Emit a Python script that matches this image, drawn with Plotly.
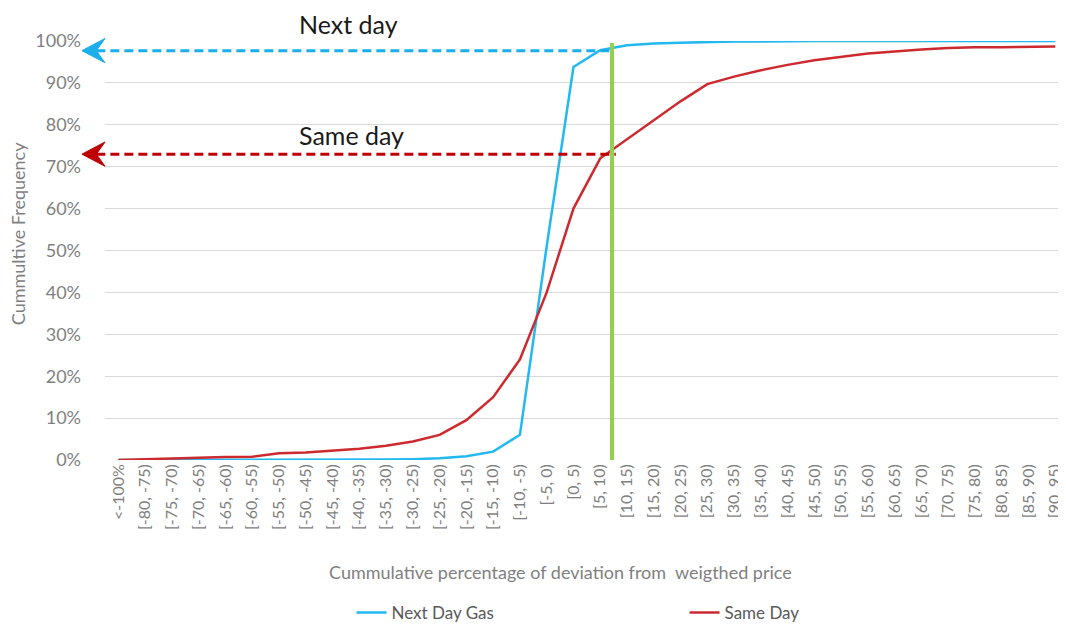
import plotly.graph_objects as go

categories = ["<-100%", "[-80, -75)", "[-75, -70)", "[-70, -65)", "[-65, -60)", "[-60, -55)",
              "[-55, -50)", "[-50, -45)", "[-45, -40)", "[-40, -35)", "[-35, -30)", "[-30, -25)",
              "[-25, -20)", "[-20, -15)", "[-15, -10)", "[-10, -5)", "[-5, 0)", "[0, 5)",
              "[5, 10)", "[10, 15)", "[15, 20)", "[20, 25)", "[25, 30)", "[30, 35)",
              "[35, 40)", "[40, 45)", "[45, 50)", "[50, 55)", "[55, 60)", "[60, 65)",
              "[65, 70)", "[70, 75)", "[75, 80)", "[80, 85)", "[85, 90)", "[90, 95)"]

next_day_gas = [0.000, 0.000, 0.000, 0.000, 0.000, 0.000, 0.000, 0.000, 0.000, 0.000,
                0.001, 0.002, 0.004, 0.009, 0.020, 0.060, 0.510, 0.938, 0.978, 0.990,
                0.994, 0.996, 0.998, 0.999, 0.999, 1.000, 1.000, 1.000, 1.000, 1.000,
                1.000, 1.000, 1.000, 1.000, 1.000, 1.000]

same_day = [0.000, 0.002, 0.003, 0.005, 0.007, 0.008, 0.016, 0.018, 0.022, 0.027,
            0.034, 0.044, 0.060, 0.095, 0.150, 0.240, 0.400, 0.600, 0.720, 0.766,
            0.811, 0.856, 0.897, 0.915, 0.930, 0.943, 0.954, 0.962, 0.970, 0.975,
            0.980, 0.983, 0.985, 0.985, 0.986, 0.987]

y_ticks = [0, 0.1, 0.2, 0.3, 0.4, 0.5, 0.6, 0.7, 0.8, 0.9, 1.0]
y_tick_labels = ["0%", "10%", "20%", "30%", "40%", "50%", "60%", "70%", "80%", "90%", "100%"]

next_day_level = 0.977
same_day_level = 0.73
threshold_x = 18.44   # position of the vertical marker (category index)
marker_top = 0.995

BLUE = "#22b8f0"
RED = "#cc2a2f"
GRAY = "#7f7f7f"
FONT = "Lato"

x_range = [-0.5, 35.4]


def xp(xi):
    return (xi - x_range[0]) / (x_range[1] - x_range[0])


fig = go.Figure()
fig.add_trace(go.Scatter(x=categories, y=next_day_gas, mode="lines", name="Next Day Gas",
                         line=dict(color=BLUE, width=2.5)))
fig.add_trace(go.Scatter(x=categories, y=same_day, mode="lines", name="Same Day",
                         line=dict(color=RED, width=2.5)))

# vertical green marker
fig.add_shape(type="line", xref="x", yref="y", x0=threshold_x, x1=threshold_x, y0=0, y1=marker_top,
              line=dict(color="#92d050", width=4), layer="above")

# dashed arrows (paper coords; y range equals paper)
tip_x = -0.024
notch_x = -0.009
back_x = 0.0
half_h = 0.029
for level, col, end in [(next_day_level, "#1aaeea", xp(threshold_x) + 0.001),
                        (same_day_level, "#c00000", xp(threshold_x) + 0.004)]:
    fig.add_shape(type="line", xref="paper", yref="paper", x0=notch_x, x1=end, y0=level, y1=level,
                  line=dict(color=col, width=3, dash="9px,5px"), layer="above")
    path = (f"M {tip_x} {level} L {back_x} {level + half_h} L {notch_x} {level} "
            f"L {back_x} {level - half_h} Z")
    fig.add_shape(type="path", xref="paper", yref="paper", path=path,
                  fillcolor=col, line=dict(color=col, width=1), layer="above")

fig.add_annotation(text="Next day", xref="paper", yref="paper", x=0.201, y=1.0406,
                   xanchor="left", yanchor="middle", showarrow=False, borderpad=0,
                   font=dict(family=FONT, size=25, color="#1a1a1a"))
fig.add_annotation(text="Same day", xref="paper", yref="paper", x=0.201, y=0.776,
                   xanchor="left", yanchor="middle", showarrow=False, borderpad=0,
                   font=dict(family=FONT, size=25, color="#1a1a1a"))

# axis titles
fig.add_annotation(text="Cummulative percentage of deviation from  weigthed price",
                   xref="paper", yref="paper", x=0.4735, y=-0.2673,
                   xanchor="center", yanchor="middle", showarrow=False,
                   font=dict(family=FONT, size=18, color=GRAY))
fig.add_annotation(text="Cummultive Frequency", textangle=-90,
                   xref="paper", yref="paper", x=-0.0905, y=0.539,
                   xanchor="center", yanchor="middle", showarrow=False,
                   font=dict(family=FONT, size=18, color=GRAY))

fig.update_layout(
    width=1058, height=621,
    margin=dict(l=97, r=0, t=33, b=169),
    paper_bgcolor="white", plot_bgcolor="white",
    font=dict(family=FONT, color=GRAY),
    showlegend=True,
    legend=dict(orientation="h", xref="container", yref="container", x=0.3247, y=0.0258,
                xanchor="left", yanchor="middle", entrywidth=288, entrywidthmode="pixels",
                font=dict(family=FONT, size=17, color="#595959")),
    xaxis=dict(type="category", range=x_range, tickangle=-90, showgrid=False,
               showline=False, zeroline=False, ticks="",
               tickfont=dict(family=FONT, size=16, color=GRAY)),
    yaxis=dict(range=[0, 1], tickvals=y_ticks, ticktext=y_tick_labels,
               showgrid=True, gridcolor="#d9d9d9", gridwidth=1, zeroline=False,
               showline=False, ticks="", ticklabelstandoff=23,
               tickfont=dict(family=FONT, size=18, color=GRAY)),
)

fig.write_html("out.html")
